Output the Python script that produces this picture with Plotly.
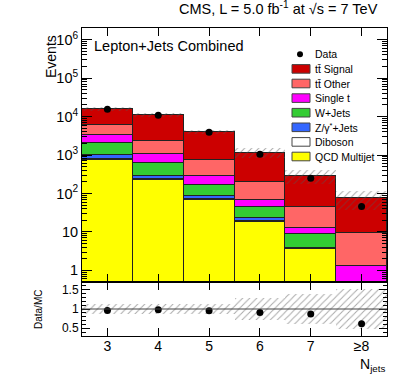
import math
import plotly.graph_objects as go

# Multiplicité de jets
jets = [3, 4, 5, 6, 7, 8]
jet_labels = ['3', '4', '5', '6', '7', '≥8']

# Échantillons simulés (événements par bin)
qcd       = [740, 225, 68, 18, 3.6, 0]
diboson   = [25, 8, 3, 1, 0.05, 0]
zjets     = [235, 57, 13, 4, 0.1, 0]
wjets     = [1040, 330, 86, 21, 5.2, 0]
single_t  = [1240, 430, 120, 25, 4.1, 1.3]
tt_other  = [2680, 1280, 450, 126, 31, 8.2]
tt_signal = [10100, 8670, 3330, 965, 246, 66.5]

# Données et rapport
data    = [15500, 10800, 3880, 1040, 247, 46]
ratio   = [0.96, 0.98, 0.955, 0.91, 0.87, 0.62]
rel_unc = [0.13, 0.13, 0.13, 0.28, 0.39, 0.51]

samples = [
    ('QCD Multijet', qcd, '#ffff00'),
    ('Diboson', diboson, '#ffffff'),
    ('Z/γ<sup>*</sup>+Jets', zjets, '#3366ff'),
    ('W+Jets', wjets, '#33cc33'),
    ('Single t', single_t, '#ff00ff'),
    ('tt̄ Other', tt_other, '#ff6666'),
    ('tt̄ Signal', tt_signal, '#cc0000'),
]

FONT = 'Liberation Sans, Arial, sans-serif'
L, R, T, B = 82, 387, 28, 336
px = lambda x: (x - L) / (R - L)
py = lambda y: (B - y) / (B - T)
split = py(282)

total = [sum(s[1][i] for s in samples) for i in range(len(jets))]
hatch = dict(shape='/', fgcolor='#555', bgcolor='rgba(0,0,0,0)', size=5, solidity=0.2)

fig = go.Figure()
for name, vals, col in samples:
    fig.add_bar(x=jets, y=vals, width=1, name=name,
                marker=dict(color=col, line=dict(color='#222', width=1)),
                xaxis='x', yaxis='y')

# Incertitude MC
fig.add_bar(x=jets, base=[t * (1 - r) for t, r in zip(total, rel_unc)],
            y=[2 * t * r for t, r in zip(total, rel_unc)], width=1,
            marker=dict(color='rgba(0,0,0,0)', pattern=hatch, line=dict(width=0)),
            xaxis='x', yaxis='y')
fig.add_scatter(x=jets, y=data, mode='markers', marker=dict(color='black', size=7),
                xaxis='x', yaxis='y')

# Panneau du rapport
fig.add_bar(x=jets, base=[1 - r for r in rel_unc], y=[2 * r for r in rel_unc], width=1,
            marker=dict(color='rgba(0,0,0,0)', pattern=hatch, line=dict(width=0)),
            xaxis='x2', yaxis='y2')
fig.add_scatter(x=jets, y=ratio, mode='markers', marker=dict(color='black', size=7),
                xaxis='x2', yaxis='y2')
fig.add_shape(type='line', xref='x2', yref='y2', x0=2.5, x1=8.5, y0=1, y1=1,
              line=dict(color='#444', width=1))

# Légende dessinée à la main
ly0, ldy = 54.3, 14.6
fig.add_shape(type='circle', xref='paper', yref='paper', x0=px(297), x1=px(303),
              y0=py(ly0 + 3), y1=py(ly0 - 3), fillcolor='black', line=dict(width=0))
fig.add_annotation(x=px(313), y=py(ly0), text='Data', xref='paper', yref='paper',
                   showarrow=False, xanchor='left', yanchor='middle', font=dict(size=10.5))
for k, (name, vals, col) in enumerate(reversed(samples)):
    yc = ly0 + ldy * (k + 1)
    fig.add_shape(type='rect', xref='paper', yref='paper', x0=px(292), x1=px(310),
                  y0=py(yc + 4.3), y1=py(yc - 4.3), fillcolor=col,
                  line=dict(color='#444', width=1))
    fig.add_annotation(x=px(313), y=py(yc), text=name, xref='paper', yref='paper',
                       showarrow=False, xanchor='left', yanchor='middle', font=dict(size=10.5))

fig.add_annotation(x=px(380), y=py(8), text='CMS, L = 5.0 fb<sup>-1</sup> at √s = 7 TeV',
                   xref='paper', yref='paper', showarrow=False, xanchor='right',
                   yanchor='middle', font=dict(size=14.5))
fig.add_annotation(x=px(92), y=py(46), text='Lepton+Jets Combined', xref='paper', yref='paper',
                   showarrow=False, xanchor='left', yanchor='middle', font=dict(size=14.5))
fig.add_annotation(x=px(51), y=py(57), text='Events', xref='paper', yref='paper',
                   showarrow=False, textangle=-90, xanchor='center', yanchor='middle',
                   font=dict(size=14))
fig.add_annotation(x=px(38), y=py(310), text='Data/MC', xref='paper', yref='paper',
                   showarrow=False, textangle=-90, xanchor='center', yanchor='middle',
                   font=dict(size=10))
fig.add_annotation(x=px(387), y=py(365), text='N<sub>jets</sub>', xref='paper', yref='paper',
                   showarrow=False, xanchor='right', yanchor='middle', font=dict(size=14))

axis_common = dict(showline=True, linecolor='black', linewidth=1, mirror='ticks',
                   ticks='inside', tickcolor='black', showgrid=False, zeroline=False)
dec = list(range(0, 7))
fig.update_layout(
    width=407, height=390,
    margin=dict(l=L, r=407 - R, t=T, b=390 - B),
    paper_bgcolor='white', plot_bgcolor='white',
    font=dict(family=FONT, color='black'),
    barmode='stack', bargap=0, showlegend=False,
    xaxis=dict(domain=[0, 1], range=[2.5, 8.5], anchor='y', tickvals=jets,
               showticklabels=False, ticklen=8, **axis_common),
    xaxis2=dict(domain=[0, 1], range=[2.5, 8.5], anchor='y2', matches='x', tickvals=jets,
                ticktext=jet_labels, ticklen=8, tickfont=dict(size=14),
                ticklabelstandoff=-3, **axis_common),
    yaxis=dict(domain=[split, 1], type='log', range=[math.log10(0.5), math.log10(2e6)],
               anchor='x', tickvals=[10 ** d for d in dec],
               ticktext=['1', '10'] + [f'10<sup>{d}</sup>' for d in dec[2:]],
               ticklen=10, tickfont=dict(size=14.5),
               minor=dict(ticks='inside', ticklen=5, dtick='D1', tickcolor='black', showgrid=False),
               **axis_common),
    yaxis2=dict(domain=[0, split], range=[0.3, 1.7], anchor='x2', tickvals=[0.5, 1, 1.5],
                ticktext=['0.5', '1', '1.5'], ticklen=8, tickfont=dict(size=12),
                minor=dict(ticks='inside', ticklen=4, dtick=0.1, tickcolor='black', showgrid=False),
                **axis_common),
)

# La page HTML ajoute une marge de 8 px au body : on la retire
fig.write_html('out.html', config={'displayModeBar': False},
               post_script="document.body.style.margin='0';")
